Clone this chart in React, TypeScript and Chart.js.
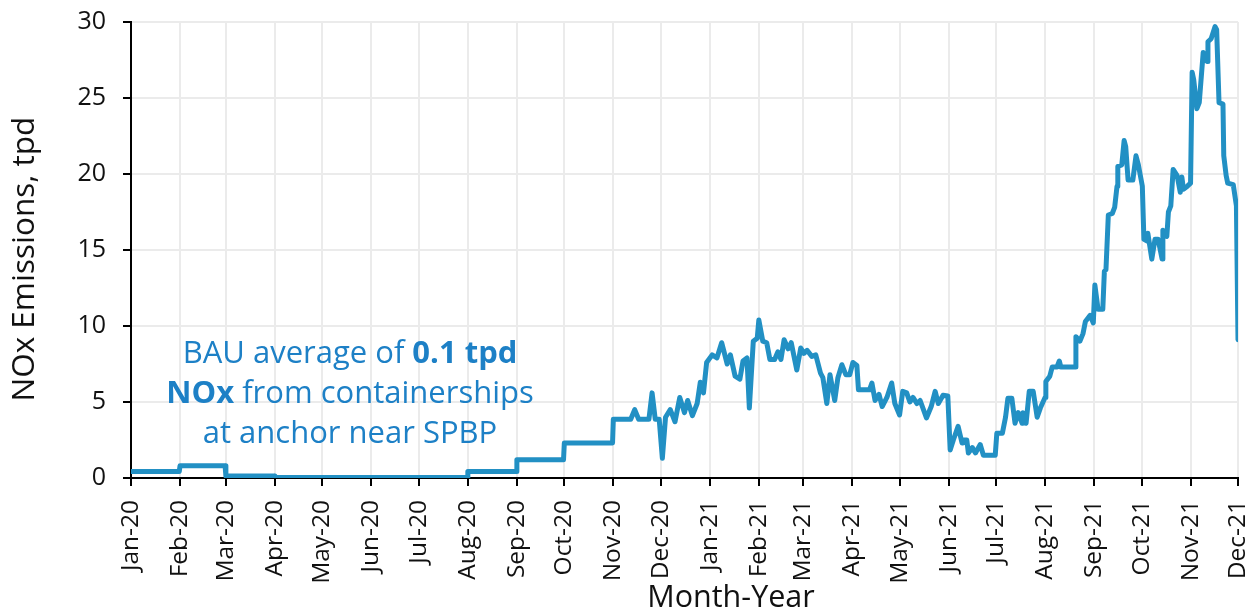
import React, { useEffect, useRef } from 'react';
import { Chart, registerables } from 'chart.js';

Chart.register(...registerables);

// Month tick labels and their day offsets (days since 1 Jan 2020)
const monthLabels = [
  'Jan-20', 'Feb-20', 'Mar-20', 'Apr-20', 'May-20', 'Jun-20', 'Jul-20', 'Aug-20',
  'Sep-20', 'Oct-20', 'Nov-20', 'Dec-20', 'Jan-21', 'Feb-21', 'Mar-21', 'Apr-21',
  'May-21', 'Jun-21', 'Jul-21', 'Aug-21', 'Sep-21', 'Oct-21', 'Nov-21', 'Dec-21',
];
const monthStartDays = [
  0, 31, 60, 91, 121, 152, 182, 213, 244, 274, 305, 335,
  366, 397, 425, 456, 486, 517, 547, 578, 609, 639, 670, 700,
];

// Series: day offset since 1 Jan 2020 and NOx emissions (tpd)
const days = [
  0, 30.5, 31, 59.5, 60, 90.5, 91, 212.5, 213, 243.5, 244, 273.5, 274, 304.5, 305,
  316, 318.5, 321, 327.5, 329.5, 331.5, 334, 336, 338, 341, 344, 347, 350, 352, 355,
  358, 360, 362, 364, 367.5, 370.5, 373.5, 377, 379, 382, 385, 387, 389.5, 391, 393.5,
  396, 397, 399.5, 402, 404, 407, 409, 411, 413, 415.5, 417.5, 421, 423.5, 425.5, 427.5,
  430.5, 433, 436, 437.5, 440, 442, 445, 447, 449.5, 452, 454.5, 456.5, 459, 460, 467,
  468.5, 470.5, 473, 475, 478, 481, 483, 486, 488, 490.5, 492.5, 494.5, 497, 499, 503,
  506, 508.5, 510.5, 513.5, 516.5, 518, 520, 523, 525.5, 526, 528.5, 529.5, 532, 534, 537,
  539, 546.5, 547.5, 551, 553, 554.5, 557, 559, 561, 563.5, 564, 566, 568, 570.5, 573,
  575, 578, 578.5, 581, 582.5, 585.5, 587, 588, 597, 597.5, 600, 602, 603.5, 606.5, 608.5,
  609.5, 611.5, 614.5, 615.5, 616.5, 618, 620.5, 622, 623.5, 624, 626.5, 628, 629, 630.5, 633.5,
  635.5, 637, 639.5, 640.5, 642.5, 643, 645.5, 647.5, 649.5, 652, 652.5, 655, 656, 657.5, 659,
  661.5, 663.5, 664.5, 665.5, 668, 670, 671, 672, 674, 675.5, 678, 679, 680.5, 681, 683,
  685.5, 686.5, 688, 690.5, 691, 692.5, 693.5, 697, 699, 700,
];
const nox = [
  0.42, 0.42, 0.8, 0.8, 0.13, 0.13, 0.04, 0.04, 0.42, 0.42, 1.2, 1.2, 2.3, 2.3, 3.87,
  3.87, 4.5, 3.87, 3.87, 5.6, 3.87, 3.87, 1.3, 4.0, 4.5, 3.7, 5.3, 4.3, 5.1, 4.1,
  4.9, 6.3, 5.6, 7.6, 8.1, 7.9, 8.9, 7.5, 8.1, 6.7, 6.5, 7.7, 7.9, 4.6, 9.0,
  9.2, 10.4, 9.0, 8.9, 7.8, 7.8, 8.3, 7.8, 9.1, 8.5, 8.9, 7.1, 8.55, 8.2, 8.4,
  8.0, 8.1, 6.9, 6.6, 4.9, 6.8, 5.1, 6.6, 7.45, 6.8, 6.8, 7.6, 7.4, 5.8, 5.8,
  6.25, 5.1, 5.5, 4.7, 5.3, 6.25, 4.9, 4.15, 5.7, 5.6, 5.0, 5.3, 4.9, 5.1, 3.95,
  4.7, 5.7, 4.9, 5.45, 5.4, 1.85, 2.5, 3.4, 2.3, 2.5, 2.5, 1.65, 2.0, 1.65, 2.2,
  1.5, 1.5, 2.95, 2.95, 4.0, 5.25, 5.25, 3.6, 4.3, 3.6, 4.3, 3.6, 5.7, 5.7, 4.0,
  4.6, 5.3, 6.35, 6.7, 7.3, 7.3, 7.7, 7.3, 7.3, 9.3, 9.0, 9.5, 10.3, 10.7, 10.2,
  12.7, 11.1, 11.1, 13.6, 13.7, 17.3, 17.4, 17.8, 19.2, 20.5, 20.6, 22.2, 21.8, 19.6, 19.6,
  21.2, 20.6, 19.2, 15.7, 15.6, 16.1, 14.4, 15.7, 15.7, 14.4, 16.3, 15.9, 17.5, 17.9, 20.3,
  19.9, 18.8, 19.8, 19.0, 19.2, 19.4, 26.7, 26.2, 24.3, 24.7, 28.0, 27.6, 27.4, 28.7, 28.9,
  29.7, 29.5, 24.7, 24.6, 21.2, 19.9, 19.4, 19.3, 17.9, 9.1,
];

const Y_MIN = 0;
const Y_MAX = 30;
const Y_STEP = 5;

const X_TITLE = 'Month-Year';
const Y_TITLE = 'NOx Emissions, tpd';

const annotationLines = [
  [{ text: 'BAU average of ', bold: false }, { text: '0.1 tpd', bold: true }],
  [{ text: 'NOx', bold: true }, { text: ' from containerships', bold: false }],
  [{ text: 'at anchor near SPBP', bold: false }],
];

const FONT = '"Open Sans", Lato, sans-serif';
const LINE_COLOR = '#2290c4';
const TEXT_COLOR = '#1d80c6';
const GRID_COLOR = '#ebebeb';

const annotationPlugin = {
  id: 'bauNote',
  afterDraw(chart: any) {
    const { ctx, chartArea } = chart;
    const xs = chart.scales.x;
    const ys = chart.scales.y;
    const cx = xs.getPixelForValue(138.5);
    const baseY = ys.getPixelForValue(7.56);
    const lineGap = 40;
    const size = 31;
    ctx.save();
    ctx.fillStyle = TEXT_COLOR;
    ctx.textBaseline = 'alphabetic';
    ctx.textAlign = 'left';
    annotationLines.forEach((segs, i) => {
      const widths = segs.map((s) => {
        ctx.font = `${s.bold ? 'bold ' : ''}${size}px ${FONT}`;
        return ctx.measureText(s.text).width;
      });
      const total = widths.reduce((a, b) => a + b, 0);
      let xPos = cx - total / 2;
      segs.forEach((s, j) => {
        ctx.font = `${s.bold ? 'bold ' : ''}${size}px ${FONT}`;
        ctx.fillText(s.text, xPos, baseY + i * lineGap);
        xPos += widths[j];
      });
    });
    // axis titles (placed as in the original, slightly off-centre)
    ctx.fillStyle = '#111';
    ctx.font = `30.5px ${FONT}`;
    ctx.textAlign = 'center';
    ctx.textBaseline = 'alphabetic';
    const tx = chartArea.left + (chartArea.right - chartArea.left) * 0.542;
    ctx.fillText(X_TITLE, tx, chart.height - 5);

    ctx.save();
    const ty = chartArea.top + (chartArea.bottom - chartArea.top) * 0.52;
    ctx.translate(34, ty);
    ctx.rotate(-Math.PI / 2);
    ctx.font = `31.5px ${FONT}`;
    ctx.textAlign = 'center';
    ctx.textBaseline = 'alphabetic';
    ctx.fillText(Y_TITLE, 0, 0);
    ctx.restore();
    ctx.restore();
  },
};

export default function App() {
  const canvasRef = useRef<HTMLCanvasElement | null>(null);

  useEffect(() => {
    document.body.style.margin = '0';
    const canvas = canvasRef.current;
    if (!canvas) return;
    const points = days.map((d, i) => ({ x: d, y: nox[i] }));
    const chart = new Chart(canvas, {
      type: 'line',
      data: {
        datasets: [
          {
            label: 'NOx',
            data: points,
            borderColor: LINE_COLOR,
            backgroundColor: LINE_COLOR,
            borderWidth: 5,
            borderJoinStyle: 'round',
            borderCapStyle: 'round',
            pointRadius: 0,
            tension: 0,
            fill: false,
          },
        ],
      },
      options: {
        responsive: false,
        animation: false,
        events: [],
        layout: { padding: { top: 22, right: 15, left: 0, bottom: 0 } },
        plugins: {
          legend: { display: false },
          tooltip: { enabled: false },
        },
        scales: {
          x: {
            type: 'linear',
            min: 0,
            max: 700,
            afterBuildTicks: (scale: any) => {
              scale.ticks = monthStartDays.map((v) => ({ value: v }));
            },
            afterFit: (scale: any) => {
              scale.height = 134;
              scale.paddingRight = 0;
              scale.paddingLeft = 0;
            },
            ticks: {
              autoSkip: false,
              minRotation: 90,
              maxRotation: 90,
              padding: 14,
              color: '#111',
              font: { family: FONT, size: 24.5 },
              callback: (v: any) => monthLabels[monthStartDays.indexOf(Number(v))],
            },
            grid: {
              color: GRID_COLOR,
              lineWidth: 2,
              tickLength: 8,
              tickColor: '#000',
              tickWidth: 2,
            },
            border: { color: '#000', width: 2 },
            title: { display: false },
          },
          y: {
            type: 'linear',
            min: Y_MIN,
            max: Y_MAX,
            afterFit: (scale: any) => {
              scale.width = 131;
              scale.paddingTop = 0;
              scale.paddingBottom = 0;
            },
            ticks: {
              stepSize: Y_STEP,
              padding: 17,
              color: '#111',
              font: { family: FONT, size: 25 },
            },
            grid: {
              color: GRID_COLOR,
              lineWidth: 2,
              tickLength: 8,
              tickColor: '#000',
              tickWidth: 2,
            },
            border: { color: '#000', width: 2 },
            title: { display: false },
          },
        },
      },
      plugins: [annotationPlugin],
    } as any);
    return () => chart.destroy();
  }, []);

  return (
    <div style={{ width: 1253, height: 612 }}>
      <canvas ref={canvasRef} width={1253} height={612} style={{ display: 'block' }} />
    </div>
  );
}
